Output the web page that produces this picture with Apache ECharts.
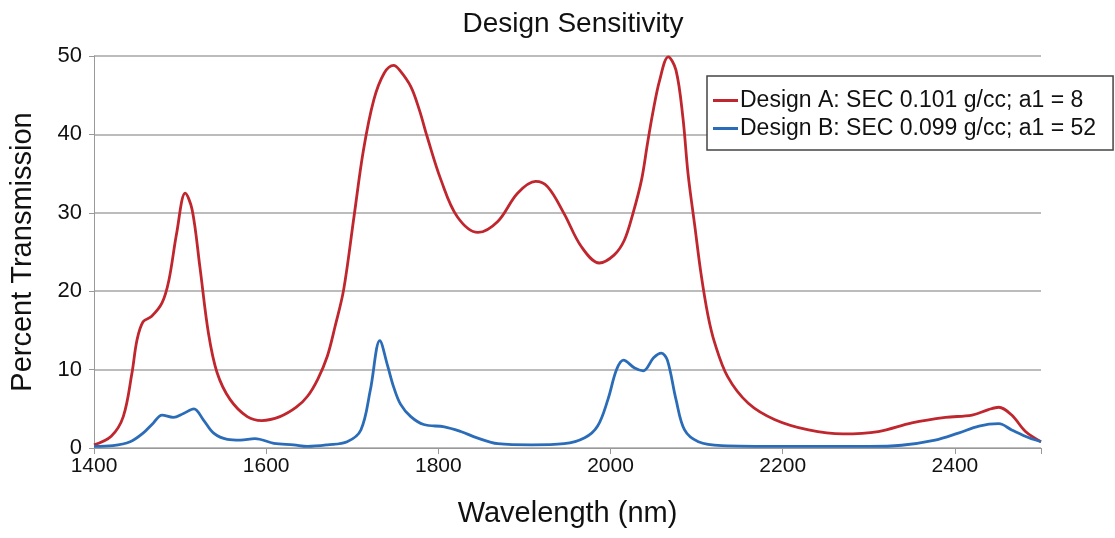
<!DOCTYPE html>
<html>
<head>
<meta charset="utf-8">
<script src="https://cdn.jsdelivr.net/npm/echarts@6/dist/echarts.min.js"></script>
<style>
  html, body { margin: 0; padding: 0; background: #ffffff; }
  #chart { width: 1115px; height: 538px; }
</style>
</head>
<body>
<div id="chart"></div>
<script>
// Design A: wavelength (nm) and percent transmission
const wavelengthsA = [1400, 1420, 1434, 1444, 1450, 1457, 1467, 1479, 1487, 1496, 1506, 1514, 1523, 1533, 1543, 1558, 1578, 1595, 1616, 1635, 1648, 1660, 1671, 1680, 1690, 1702, 1713, 1725, 1737, 1748, 1755, 1768, 1778, 1787, 1803, 1822, 1846, 1869, 1892, 1913, 1927, 1946, 1966, 1987, 2004, 2016, 2026, 2036, 2043, 2049, 2057, 2067, 2076, 2084, 2090, 2098, 2105, 2113, 2121, 2136, 2160, 2191, 2230, 2270, 2311, 2350, 2389, 2420, 2439, 2451, 2466, 2482, 2500];
const transmissionA = [0.4, 1.5, 4.0, 9.5, 13.8, 16.1, 16.8, 18.5, 21.4, 27.4, 32.5, 30.4, 23.1, 14.6, 9.6, 6.2, 4.0, 3.5, 4.0, 5.2, 6.6, 8.8, 11.7, 15.5, 20.2, 29.5, 38.0, 44.4, 47.8, 48.8, 48.2, 46.1, 43.1, 39.7, 34.2, 29.5, 27.5, 28.9, 32.5, 34.0, 33.3, 29.9, 25.7, 23.6, 24.6, 26.5, 29.9, 34.2, 38.9, 42.7, 46.9, 49.9, 48.2, 42.2, 35.0, 28.2, 22.3, 17.0, 13.4, 9.1, 5.7, 3.6, 2.3, 1.8, 2.1, 3.2, 3.9, 4.2, 4.9, 5.2, 4.2, 2.1, 0.8];

// Design B: wavelength (nm) and percent transmission
const wavelengthsB = [1400, 1422, 1442, 1457, 1469, 1479, 1492, 1504, 1516, 1527, 1539, 1555, 1570, 1587, 1609, 1632, 1648, 1671, 1694, 1710, 1721, 1732, 1741, 1748, 1756, 1768, 1783, 1807, 1826, 1845, 1869, 1908, 1946, 1970, 1985, 1997, 2007, 2015, 2028, 2038, 2050, 2059, 2066, 2076, 2086, 2102, 2129, 2200, 2300, 2338, 2377, 2404, 2428, 2451, 2466, 2486, 2500];
const transmissionB = [0.2, 0.3, 0.8, 1.9, 3.2, 4.2, 3.9, 4.4, 5.0, 3.6, 1.9, 1.1, 1.0, 1.2, 0.6, 0.4, 0.2, 0.4, 0.8, 2.3, 7.4, 13.7, 10.5, 7.8, 5.6, 4.0, 3.0, 2.7, 2.1, 1.3, 0.55, 0.4, 0.55, 1.3, 2.8, 6.2, 10.0, 11.2, 10.2, 9.85, 11.5, 12.1, 11.2, 6.2, 2.3, 0.8, 0.3, 0.2, 0.2, 0.35, 1.0, 1.9, 2.8, 3.1, 2.3, 1.3, 0.8];

const seriesNames = [
  'Design A: SEC 0.101 g/cc; a1 = 8',
  'Design B: SEC 0.099 g/cc; a1 = 52'
];
const xTicks = [1400, 1600, 1800, 2000, 2200, 2400];
const yTicks = [0, 10, 20, 30, 40, 50];

const pairs = (xs, ys) => xs.map((x, i) => [x, ys[i]]);
const FONT = '"Liberation Sans", Arial, sans-serif';

const chart = echarts.init(document.getElementById('chart'), null, { renderer: 'canvas' });
chart.setOption({
  backgroundColor: '#ffffff',
  animation: false,
  title: {
    text: 'Design Sensitivity',
    left: 568,
    textAlign: 'center',
    top: 5,
    textStyle: { fontFamily: FONT, fontSize: 28, fontWeight: 'normal', color: '#111' }
  },
  grid: { left: 94, right: 74, top: 56, bottom: 90, containLabel: false },
  legend: {
    left: 707,
    top: 76,
    orient: 'vertical',
    padding: [13, 17, 10, 6],
    itemGap: 5,
    itemWidth: 25,
    itemHeight: 3,
    icon: 'rect',
    borderColor: '#444',
    borderWidth: 1.5,
    backgroundColor: '#ffffff',
    textStyle: { fontFamily: FONT, fontSize: 23, color: '#111', padding: [0, 0, 0, -3] },
    data: seriesNames
  },
  xAxis: {
    type: 'value',
    min: xTicks[0],
    max: 2500,
    interval: 200,
    name: 'Wavelength (nm)',
    nameLocation: 'middle',
    nameGap: 51,
    nameTextStyle: { fontFamily: FONT, fontSize: 29, color: '#111' },
    axisLine: { show: true, lineStyle: { color: '#999', width: 1 } },
    axisTick: { show: true, length: 6, lineStyle: { color: '#999' } },
    axisLabel: {
      fontFamily: FONT, fontSize: 21, color: '#111', margin: 8,
      formatter: v => xTicks.includes(v) ? String(v) : ''
    },
    splitLine: { show: false }
  },
  yAxis: {
    type: 'value',
    min: yTicks[0],
    max: yTicks[yTicks.length - 1],
    interval: 10,
    name: 'Percent Transmission',
    nameLocation: 'middle',
    nameGap: 57,
    nameTextStyle: { fontFamily: FONT, fontSize: 29, color: '#111' },
    axisLine: { show: true, lineStyle: { color: '#999', width: 1 } },
    axisTick: { show: true, length: 5, lineStyle: { color: '#999' } },
    axisLabel: { fontFamily: FONT, fontSize: 22, color: '#111', margin: 12 },
    splitLine: { show: true, lineStyle: { color: '#a6a6a6', width: 1.5 } }
  },
  series: [
    {
      name: seriesNames[0],
      type: 'line',
      data: pairs(wavelengthsA, transmissionA),
      smooth: 0.35,
      showSymbol: false,
      color: '#c0262d',
      lineStyle: { width: 2.8, color: '#c0262d' },
      z: 3
    },
    {
      name: seriesNames[1],
      type: 'line',
      data: pairs(wavelengthsB, transmissionB),
      smooth: 0.35,
      showSymbol: false,
      color: '#2b6cb8',
      lineStyle: { width: 2.8, color: '#2b6cb8' },
      z: 4
    }
  ]
});
</script>
</body>
</html>
